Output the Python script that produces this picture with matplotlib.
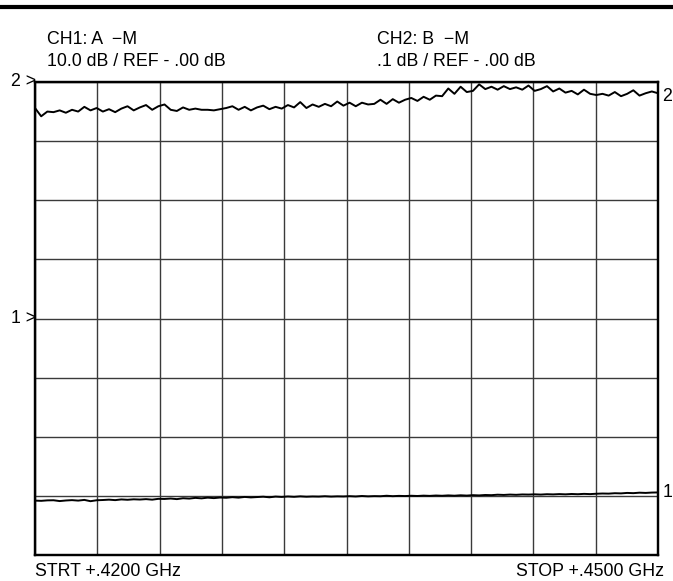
import numpy as np
import matplotlib
matplotlib.use("Agg")
import matplotlib.pyplot as plt
from matplotlib.lines import Line2D

plt.rcParams["font.family"] = ["Liberation Sans", "DejaVu Sans"]

# sweep settings (GHz)
f_start = 0.42
f_stop = 0.45

# CH1: A-M, 10 dB/div, ref 0 dB at centre line
ch1_db = [
    -30.80, -30.84, -30.76, -30.74, -30.88, -30.78, -30.72, -30.80, -30.68, -30.90, -30.74,
    -30.70, -30.64, -30.72, -30.60, -30.66, -30.58, -30.62, -30.55, -30.64, -30.50,
    -30.52, -30.45, -30.55, -30.40, -30.46, -30.34, -30.42, -30.30, -30.38, -30.28,
    -30.32, -30.22, -30.30, -30.18, -30.26, -30.20, -30.14, -30.24, -30.12, -30.18,
    -30.10, -30.16, -30.08, -30.14, -30.10, -30.12, -30.06, -30.12, -30.08, -30.10,
    -30.05, -30.10, -30.02, -30.08, -30.04, -30.06, -29.98, -30.05, -30.00, -30.03,
    -29.98, -30.02, -29.96, -30.00, -29.94, -29.98, -29.92, -29.97, -29.90, -29.95,
    -29.88, -29.92, -29.85, -29.88, -29.80, -29.84, -29.78, -29.82, -29.76, -29.78,
    -29.74, -29.78, -29.72, -29.75, -29.70, -29.74, -29.68, -29.72, -29.66, -29.70,
    -29.64, -29.60, -29.62, -29.55, -29.58, -29.50, -29.54, -29.46, -29.50, -29.44, -29.42,
]

# CH2: B-M, .1 dB/div, ref 0 dB at top line
ch2_db = [
    -0.044, -0.058, -0.050, -0.051, -0.048, -0.052, -0.047, -0.050, -0.042, -0.048, -0.044,
    -0.050, -0.046, -0.051, -0.045, -0.041, -0.048, -0.043, -0.039, -0.047, -0.041,
    -0.038, -0.047, -0.049, -0.043, -0.047, -0.045, -0.047, -0.047, -0.048, -0.046,
    -0.044, -0.041, -0.047, -0.042, -0.048, -0.043, -0.040, -0.046, -0.042, -0.045,
    -0.039, -0.043, -0.034, -0.044, -0.038, -0.042, -0.037, -0.041, -0.033, -0.040,
    -0.035, -0.041, -0.035, -0.038, -0.037, -0.030, -0.037, -0.029, -0.035, -0.030,
    -0.027, -0.032, -0.025, -0.030, -0.023, -0.024, -0.011, -0.020, -0.008, -0.017,
    -0.015, -0.004, -0.012, -0.008, -0.013, -0.007, -0.012, -0.009, -0.013, -0.006,
    -0.015, -0.012, -0.007, -0.016, -0.011, -0.018, -0.015, -0.021, -0.013, -0.020,
    -0.022, -0.020, -0.023, -0.017, -0.024, -0.020, -0.014, -0.023, -0.019, -0.016, -0.019,
]

freq = np.linspace(f_start, f_stop, len(ch1_db))

fs = 12.8

fig = plt.figure(figsize=(6.73, 5.81), dpi=100)
ax1 = fig.add_axes([35 / 673, 26 / 581, 623 / 673, 473 / 581])
ax2 = ax1.twinx()

ax1.set_xlim(f_start, f_stop)
ax1.set_ylim(-40, 40)
ax2.set_ylim(-0.8, 0)
ax1.set_xticks(np.linspace(f_start, f_stop, 11))
ax1.set_yticks(np.arange(-40, 41, 10))
ax1.grid(True, color="#3a3a3a", linewidth=1.0)
ax1.tick_params(left=False, bottom=False, labelleft=False, labelbottom=False)
ax2.tick_params(right=False, labelright=False)
for ax in (ax1, ax2):
    for s in ax.spines.values():
        s.set_linewidth(1.6)
        s.set_color("black")

ax1.plot(freq, ch1_db, color="black", linewidth=1.4)
ax2.plot(freq, ch2_db, color="black", linewidth=1.4)

# reference markers
ax1.annotate("1 >", xy=(0, 0.5), xycoords="axes fraction", xytext=(1, 0),
             textcoords="offset points", ha="right", va="center", fontsize=fs)
ax1.annotate("2 >", xy=(0, 1.0), xycoords="axes fraction", xytext=(1, 0),
             textcoords="offset points", ha="right", va="center", fontsize=fs)
# trace end labels
ax1.annotate("1", xy=(f_stop, ch1_db[-1]), xycoords="data", xytext=(3, 0),
             textcoords="offset points", ha="left", va="center", fontsize=fs,
             annotation_clip=False)
ax2.annotate("2", xy=(f_stop, ch2_db[-1]), xycoords="data", xytext=(3, -2),
             textcoords="offset points", ha="left", va="center", fontsize=fs,
             annotation_clip=False)

# header
fig.add_artist(Line2D([0, 1], [1 - 7 / 581] * 2, color="black", linewidth=3))
fig.text(47 / 673, 1 - 39 / 581, "CH1: A  \u2212M", fontsize=fs, va="center")
fig.text(47 / 673, 1 - 61 / 581, "10.0 dB / REF - .00 dB", fontsize=fs, va="center")
fig.text(377 / 673, 1 - 39 / 581, "CH2: B  \u2212M", fontsize=fs, va="center")
fig.text(377 / 673, 1 - 61 / 581, ".1 dB / REF - .00 dB", fontsize=fs, va="center")

# footer
fig.text(35 / 673, 1 - 571 / 581, "STRT +.4200 GHz", fontsize=fs, va="center")
fig.text(664 / 673, 1 - 571 / 581, "STOP +.4500 GHz", fontsize=fs, va="center", ha="right")

fig.savefig("out.png", dpi=100)
